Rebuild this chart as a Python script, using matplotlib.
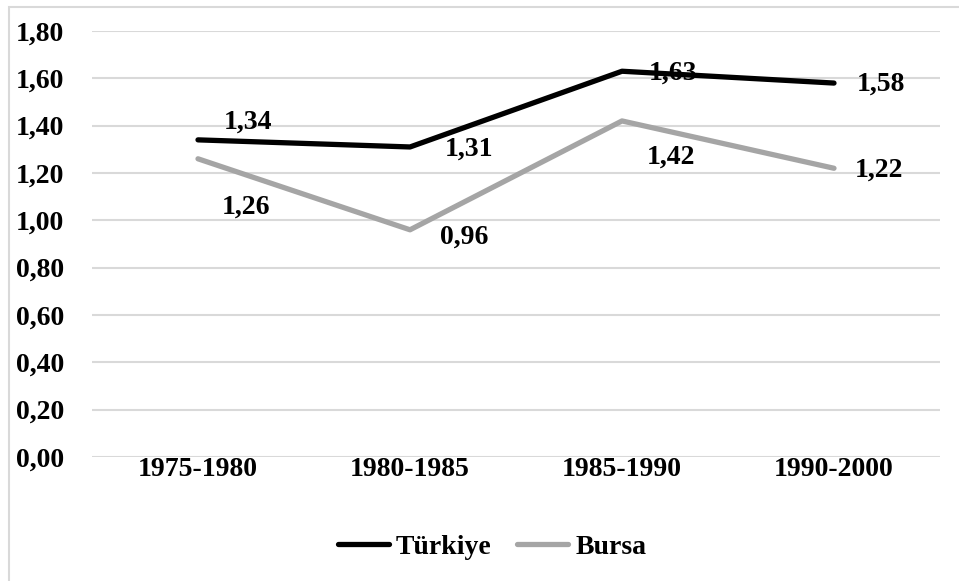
import matplotlib.pyplot as plt
from matplotlib.patches import Rectangle
from matplotlib.ticker import FuncFormatter

periods = ["1975-1980", "1980-1985", "1985-1990", "1990-2000"]
turkiye = [1.34, 1.31, 1.63, 1.58]
bursa = [1.26, 0.96, 1.42, 1.22]

plt.rcParams['font.family'] = ['Liberation Serif', 'DejaVu Serif']
plt.rcParams['font.weight'] = 'bold'

fig = plt.figure(figsize=(9.59, 5.81), dpi=100)
fig.patches.append(Rectangle((9 / 959, -0.1), 1.2, 1 - 7 / 581 + 0.1, transform=fig.transFigure,
                             fill=False, edgecolor="#D9D9D9", linewidth=1.5))
ax = fig.add_axes([92 / 959, 1 - 457 / 581, 848 / 959, 426 / 581])

x = range(len(periods))
ax.plot(x, turkiye, color="black", lw=3.8, solid_capstyle="round", label="Türkiye", zorder=3)
ax.plot(x, bursa, color="#A5A5A5", lw=3.8, solid_capstyle="round", label="Bursa", zorder=3)

def fmt(v):
    return f"{v:.2f}".replace(".", ",")

t_off = [(50, 18), (59, -2), (51, -2), (47, -1)]
b_off = [(48, -48), (54, -7), (49, -36), (45, -2)]
for i, v in enumerate(turkiye):
    ax.annotate(fmt(v), (i, v), xytext=t_off[i], textcoords="offset pixels",
                ha="center", va="center", fontsize=20, fontweight="bold", zorder=4)
for i, v in enumerate(bursa):
    ax.annotate(fmt(v), (i, v), xytext=b_off[i], textcoords="offset pixels",
                ha="center", va="center", fontsize=20, fontweight="bold", zorder=4)

ax.set_xlim(-0.5, 3.5)
ax.set_ylim(0, 1.8)
ax.set_yticks([i * 0.2 for i in range(10)])
ax.yaxis.set_major_formatter(FuncFormatter(lambda v, p: fmt(v)))
ax.set_xticks(list(x))
ax.set_xticklabels(periods)
ax.tick_params(length=0, labelsize=20)
ax.tick_params(axis="x", pad=0)
ax.tick_params(axis="y", pad=20)
ax.grid(axis="y", color="#D9D9D9", lw=1.5)
ax.set_axisbelow(True)
for s in ax.spines.values():
    s.set_visible(False)

leg = fig.legend(loc="center", bbox_to_anchor=(0.513, 1 - 547 / 581), ncol=2, frameon=False,
                 fontsize=20, handlelength=1.85, handletextpad=0.25, columnspacing=0.9)
for h in leg.get_lines():
    h.set_solid_capstyle("round")

fig.savefig("out.png", dpi=100)
